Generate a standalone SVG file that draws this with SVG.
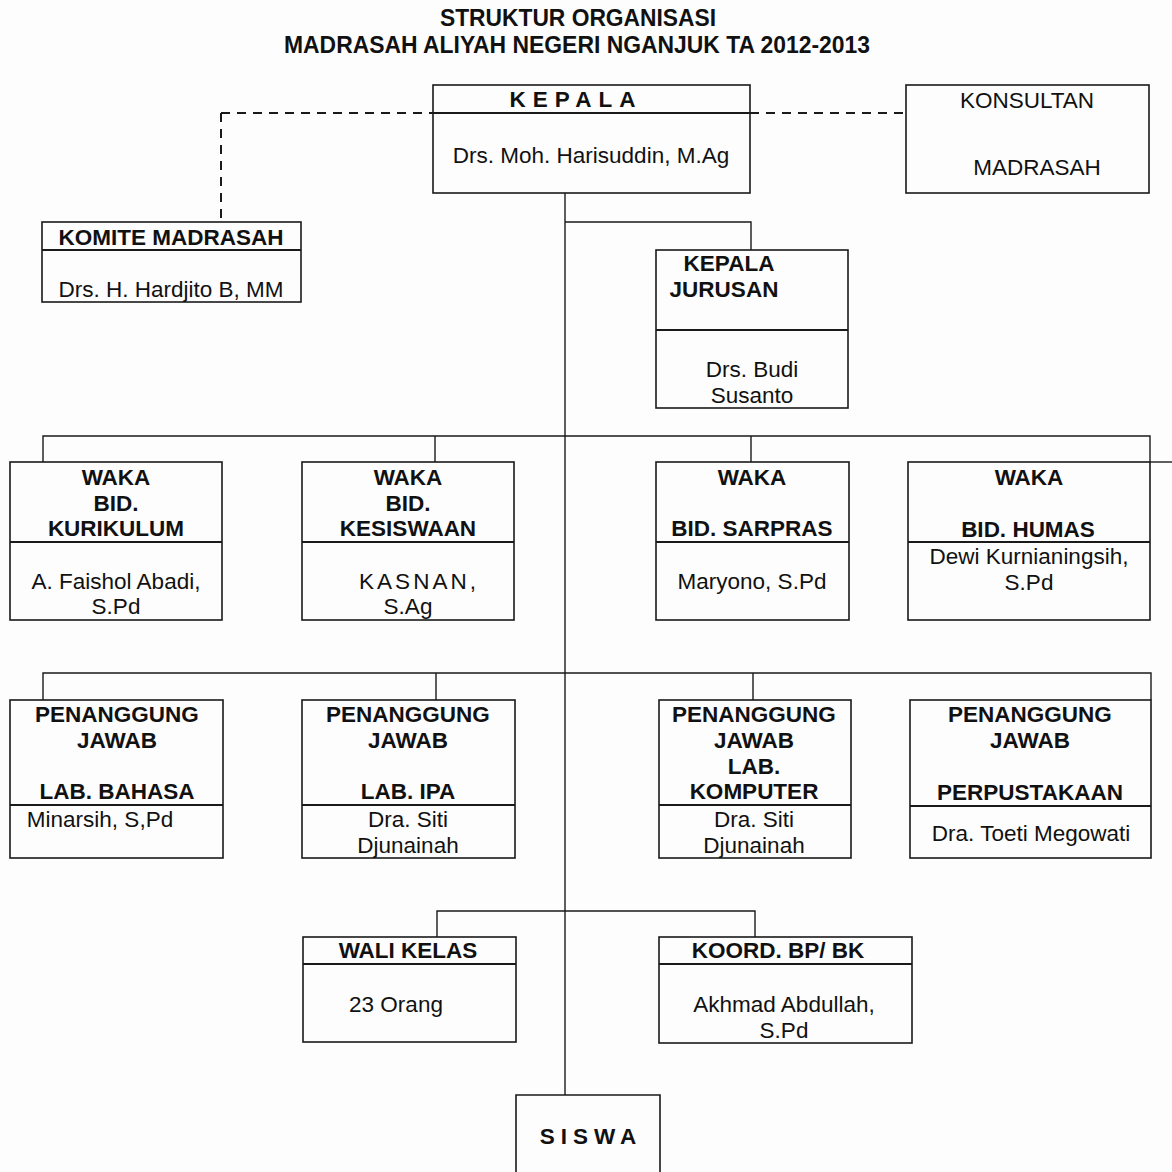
<svg xmlns="http://www.w3.org/2000/svg" width="1172" height="1172" viewBox="0 0 1172 1172">
<style>
.bg{fill:#fdfdfd}
.box{fill:none;stroke:#1a1a1a;stroke-width:1.6}
.div{stroke:#1a1a1a;stroke-width:1.8}
.ln{fill:none;stroke:#1a1a1a;stroke-width:1.4}
.dash{fill:none;stroke:#1a1a1a;stroke-width:2;stroke-dasharray:9,7}
text{font-family:"Liberation Sans",Arial,sans-serif;fill:#111}
.t{font-size:23px;font-weight:bold;text-anchor:middle}
.b{font-size:22.5px;font-weight:bold;text-anchor:middle}
.r{font-size:22.5px;text-anchor:middle}
</style>
<rect class="bg" x="0" y="0" width="1172" height="1172"/>
<g id="title">
<text class="t" x="578" y="26" textLength="276" lengthAdjust="spacingAndGlyphs">STRUKTUR ORGANISASI</text>
<text class="t" x="577" y="53" textLength="586" lengthAdjust="spacingAndGlyphs">MADRASAH ALIYAH NEGERI NGANJUK TA 2012-2013</text>
</g>
<g id="connectors">
<path class="dash" d="M221,113 H433 M750,113 H906 M221,113 V222"/>
<path class="ln" d="M565,193 V1095"/>
<path class="ln" d="M565,222 H751 V250"/>
<path class="ln" d="M43,462 V436 H1150 V462 M435,436 V462 M751,436 V462"/>
<path class="ln" d="M1150,462 H1172"/>
<path class="ln" d="M43,700 V673 H1151 V700 M436,673 V700 M753,673 V700"/>
<path class="ln" d="M437,937 V911 H755 V937"/>
</g>
<g id="kepala">
<rect class="box" x="433" y="85" width="317" height="108"/>
<line class="div" x1="433" y1="113" x2="750" y2="113"/>
<text class="b" x="576" y="107" letter-spacing="7">KEPALA</text>
<text class="r" x="591" y="163">Drs. Moh. Harisuddin, M.Ag</text>
</g>
<g id="konsultan">
<rect class="box" x="906" y="85" width="243" height="108"/>
<text class="r" x="1027" y="108">KONSULTAN</text>
<text class="r" x="1037" y="175">MADRASAH</text>
</g>
<g id="komite">
<rect class="box" x="42" y="222" width="259" height="80"/>
<line class="div" x1="42" y1="250" x2="301" y2="250"/>
<text class="b" x="171" y="245">KOMITE MADRASAH</text>
<text class="r" x="171" y="297">Drs. H. Hardjito B, MM</text>
</g>
<g id="kajur">
<rect class="box" x="656" y="250" width="192" height="158"/>
<line class="div" x1="656" y1="330" x2="848" y2="330"/>
<text class="b" x="729" y="271">KEPALA</text>
<text class="b" x="724" y="297">JURUSAN</text>
<text class="r" x="752" y="377">Drs. Budi</text>
<text class="r" x="752" y="403">Susanto</text>
</g>
<g id="waka-kurikulum">
<rect class="box" x="10" y="462" width="212" height="158"/>
<line class="div" x1="10" y1="542" x2="222" y2="542"/>
<text class="b" x="116" y="485">WAKA</text>
<text class="b" x="116" y="511">BID.</text>
<text class="b" x="116" y="536">KURIKULUM</text>
<text class="r" x="116" y="589">A. Faishol Abadi,</text>
<text class="r" x="116" y="614">S.Pd</text>
</g>
<g id="waka-kesiswaan">
<rect class="box" x="302" y="462" width="212" height="158"/>
<line class="div" x1="302" y1="542" x2="514" y2="542"/>
<text class="b" x="408" y="485">WAKA</text>
<text class="b" x="408" y="511">BID.</text>
<text class="b" x="408" y="536">KESISWAAN</text>
<text class="r" x="419" y="589" letter-spacing="3">KASNAN,</text>
<text class="r" x="408" y="614">S.Ag</text>
</g>
<g id="waka-sarpras">
<rect class="box" x="656" y="462" width="193" height="158"/>
<line class="div" x1="656" y1="542" x2="849" y2="542"/>
<text class="b" x="752" y="485">WAKA</text>
<text class="b" x="752" y="536">BID. SARPRAS</text>
<text class="r" x="752" y="589">Maryono, S.Pd</text>
</g>
<g id="waka-humas">
<rect class="box" x="908" y="462" width="242" height="158"/>
<line class="div" x1="908" y1="542" x2="1150" y2="542"/>
<text class="b" x="1029" y="485">WAKA</text>
<text class="b" x="1028" y="537">BID. HUMAS</text>
<text class="r" x="1029" y="564">Dewi Kurnianingsih,</text>
<text class="r" x="1029" y="590">S.Pd</text>
</g>
<g id="pj-bahasa">
<rect class="box" x="10" y="700" width="213" height="158"/>
<line class="div" x1="10" y1="805" x2="223" y2="805"/>
<text class="b" x="117" y="722">PENANGGUNG</text>
<text class="b" x="117" y="748">JAWAB</text>
<text class="b" x="117" y="799">LAB. BAHASA</text>
<text class="r" x="100" y="827">Minarsih, S,Pd</text>
</g>
<g id="pj-ipa">
<rect class="box" x="302" y="700" width="213" height="158"/>
<line class="div" x1="302" y1="805" x2="515" y2="805"/>
<text class="b" x="408" y="722">PENANGGUNG</text>
<text class="b" x="408" y="748">JAWAB</text>
<text class="b" x="408" y="799">LAB. IPA</text>
<text class="r" x="408" y="827">Dra. Siti</text>
<text class="r" x="408" y="853">Djunainah</text>
</g>
<g id="pj-komputer">
<rect class="box" x="659" y="700" width="192" height="158"/>
<line class="div" x1="659" y1="805" x2="851" y2="805"/>
<text class="b" x="754" y="722">PENANGGUNG</text>
<text class="b" x="754" y="748">JAWAB</text>
<text class="b" x="754" y="774">LAB.</text>
<text class="b" x="754" y="799">KOMPUTER</text>
<text class="r" x="754" y="827">Dra. Siti</text>
<text class="r" x="754" y="853">Djunainah</text>
</g>
<g id="pj-perpustakaan">
<rect class="box" x="910" y="700" width="241" height="158"/>
<line class="div" x1="910" y1="806" x2="1151" y2="806"/>
<text class="b" x="1030" y="722">PENANGGUNG</text>
<text class="b" x="1030" y="748">JAWAB</text>
<text class="b" x="1030" y="800">PERPUSTAKAAN</text>
<text class="r" x="1031" y="841">Dra. Toeti Megowati</text>
</g>
<g id="wali-kelas">
<rect class="box" x="303" y="937" width="213" height="105"/>
<line class="div" x1="303" y1="964" x2="516" y2="964"/>
<text class="b" x="408" y="958">WALI KELAS</text>
<text class="r" x="396" y="1012">23 Orang</text>
</g>
<g id="koord-bk">
<rect class="box" x="659" y="937" width="253" height="106"/>
<line class="div" x1="659" y1="964" x2="912" y2="964"/>
<text class="b" x="778" y="958">KOORD. BP/ BK</text>
<text class="r" x="784" y="1012">Akhmad Abdullah,</text>
<text class="r" x="784" y="1038">S.Pd</text>
</g>
<g id="siswa">
<path class="box" d="M516,1174 V1095 H660 V1174"/>
<text class="b" x="591" y="1144" letter-spacing="6">SISWA</text>
</g>
</svg>
